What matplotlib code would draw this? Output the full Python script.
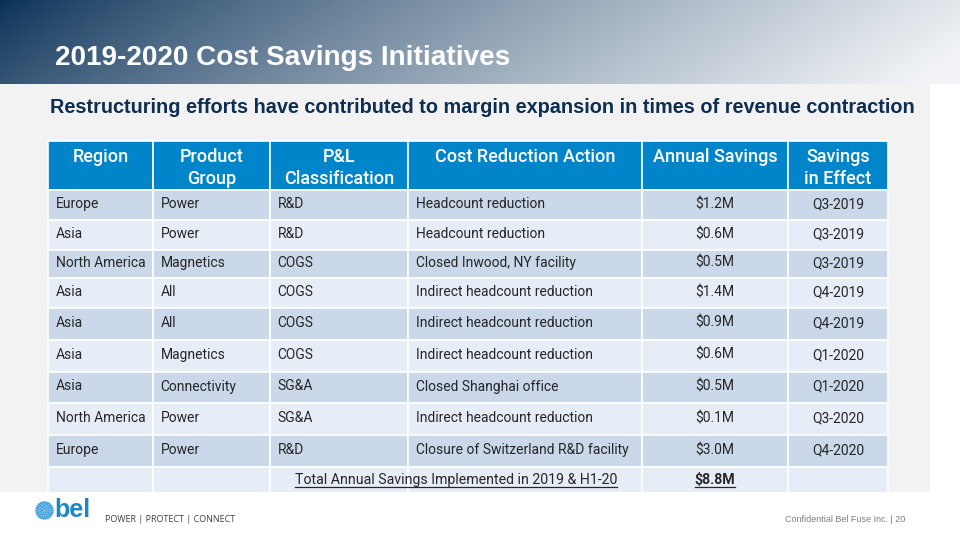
import numpy as np
import matplotlib
matplotlib.use("Agg")
import matplotlib.pyplot as plt
from matplotlib.patches import Rectangle, Circle

# ---------------- data ----------------
title = "2019-2020 Cost Savings Initiatives"
subtitle = "Restructuring efforts have contributed to margin expansion in times of revenue contraction"
headers = ["Region", "Product\nGroup", "P&L\nClassification", "Cost Reduction Action",
           "Annual Savings", "Savings\nin Effect"]
regions = ["Europe", "Asia", "North America", "Asia", "Asia", "Asia", "Asia",
           "North America", "Europe"]
groups = ["Power", "Power", "Magnetics", "All", "All", "Magnetics", "Connectivity",
          "Power", "Power"]
pl_class = ["R&D", "R&D", "COGS", "COGS", "COGS", "COGS", "SG&A", "SG&A", "R&D"]
actions = ["Headcount reduction", "Headcount reduction", "Closed Inwood, NY facility",
           "Indirect headcount reduction", "Indirect headcount reduction",
           "Indirect headcount reduction", "Closed Shanghai office",
           "Indirect headcount reduction", "Closure of Switzerland R&D facility"]
savings_m = [1.2, 0.6, 0.5, 1.4, 0.9, 0.6, 0.5, 0.1, 3.0]
in_effect = ["Q3-2019", "Q3-2019", "Q3-2019", "Q4-2019", "Q4-2019", "Q1-2020",
             "Q1-2020", "Q3-2020", "Q4-2020"]
total_label = "Total Annual Savings Implemented in 2019 & H1-20"
total_value = "$8.8M"
tagline = "POWER | PROTECT | CONNECT"
footer_right = "Confidential Bel Fuse Inc. | 20"

# ---------------- layout ----------------
W, H = 960, 540
col_edges = [48, 153, 270, 408, 642, 788, 888]
head_top, head_bot = 141, 190
row_edges = [190, 220, 250, 278, 308, 340, 372, 403, 435, 467, 498]
panel_bottom = 492

HEADER_BLUE = "#0085ca"
ROW_DARK = "#cad8ea"
ROW_LIGHT = "#e7edf7"
TEXT = "#262626"
NAVY = "#0d2e52"

fig = plt.figure(figsize=(9.6, 5.4), dpi=100)
ax = fig.add_axes([0, 0, 1, 1])
ax.set_xlim(0, W)
ax.set_ylim(H, 0)
ax.axis("off")

# gradient title band
xs = np.linspace(0, 1, 480)
ys = np.linspace(0, 1, 42)
X, Y = np.meshgrid(xs, ys)
t = np.clip(X * 0.92 + Y * 0.12, 0, 1) ** 0.8
dark = np.array([8, 48, 86]) / 255
light = np.array([242, 244, 247]) / 255
img = dark[None, None, :] * (1 - t[..., None]) + light[None, None, :] * t[..., None]
ax.imshow(img, extent=[0, W, 84, 0], aspect="auto", zorder=0, interpolation="bilinear")

# gray panel
ax.add_patch(Rectangle((0, 84), 930, panel_bottom - 84, facecolor="#f2f2f2",
                       edgecolor="none", zorder=0))

ax.text(55, 65, title, color="white", fontsize=20.1, fontweight="bold",
        family=["Liberation Sans", "DejaVu Sans"], va="baseline", ha="left", zorder=3)
ax.text(50, 113, subtitle, color=NAVY, fontsize=14.3, fontweight="bold",
        family=["Liberation Sans", "DejaVu Sans"], va="baseline", ha="left", zorder=3)

FONT = ["Roboto", "DejaVu Sans"]

# header
for j, h in enumerate(headers):
    x0, x1 = col_edges[j], col_edges[j + 1]
    ax.add_patch(Rectangle((x0, head_top), x1 - x0, head_bot - head_top,
                           facecolor=HEADER_BLUE, edgecolor="white", lw=1.2, zorder=1))
    for k, line in enumerate(h.split("\n")):
        ax.text((x0 + x1) / 2, 162 + k * 21.5, line, color="white", fontsize=13,
                family=FONT, fontweight="medium", ha="center", va="baseline", zorder=3)

# body rows
n = len(regions)
for i in range(n + 1):
    y0, y1 = row_edges[i], row_edges[i + 1]
    fc = ROW_DARK if i % 2 == 0 else ROW_LIGHT
    for j in range(6):
        x0, x1 = col_edges[j], col_edges[j + 1]
        ax.add_patch(Rectangle((x0, y0), x1 - x0, y1 - y0, facecolor=fc,
                               edgecolor="white", lw=1.2, zorder=1))

for i in range(n):
    yb = (row_edges[i] + row_edges[i + 1]) / 2 + 3
    vals = [regions[i], groups[i], pl_class[i], actions[i]]
    for j, v in enumerate(vals):
        ax.text(col_edges[j] + 7.5, yb, v, color=TEXT, fontsize=10, family=FONT,
                ha="left", va="baseline", zorder=3)
    ax.text((col_edges[4] + col_edges[5]) / 2, yb, f"${savings_m[i]:.1f}M", color=TEXT,
            fontsize=10, family=FONT, ha="center", va="baseline", zorder=3)
    ax.text((col_edges[5] + col_edges[6]) / 2, yb, in_effect[i], color=TEXT,
            fontsize=10, family=FONT, ha="center", va="baseline", zorder=3)

# total row
yb = 484
t1 = ax.text((col_edges[2] + col_edges[4]) / 2, yb, total_label, color=TEXT, fontsize=10.2,
             family=FONT, ha="center", va="baseline", zorder=3)
t2 = ax.text((col_edges[4] + col_edges[5]) / 2, yb, total_value, color=TEXT, fontsize=10.2,
             family=FONT, fontweight="bold", ha="center", va="baseline", zorder=3)
# white footer area (clips last row)
ax.add_patch(Rectangle((0, panel_bottom), W, H - panel_bottom, facecolor="white",
                       edgecolor="none", zorder=2))

for tt in (t1, t2):
    fig.canvas.draw()
    inv = ax.transData.inverted()
    bb = tt.get_window_extent()
    (xa, _), (xb, _) = inv.transform([[bb.x0, bb.y0], [bb.x1, bb.y0]])
    ax.plot([xa, xb], [yb + 3, yb + 3], color=TEXT, lw=0.9, zorder=3)

# footer logo
cx, cy = 44.5, 510.5
ax.add_patch(Circle((cx, cy), 8.5, facecolor="#a9d3ee", edgecolor="none", zorder=3))
for r, nd in [(2.2, 6), (4.4, 11), (6.6, 16), (8.2, 22)]:
    ang = np.linspace(0, 2 * np.pi, nd, endpoint=False)
    ax.scatter(cx + r * np.cos(ang), cy + r * np.sin(ang), s=3, color="#4aa6dc",
               edgecolors="none", zorder=4)
ax.text(54, 517, "bel", color="#1a86c8", fontsize=18, fontweight="bold",
        family=["Liberation Sans", "DejaVu Sans"], ha="left", va="baseline", zorder=4)
ax.text(105, 522, tagline, color="#404040", fontsize=6.5,
        family=["Liberation Sans Narrow", "Open Sans", "DejaVu Sans"], ha="left",
        va="baseline", zorder=4)
ax.text(905, 522, footer_right, color="#7f7f7f", fontsize=6.5,
        family=["Liberation Sans", "DejaVu Sans"], ha="right", va="baseline", zorder=4)

fig.savefig("out.png", dpi=100)
